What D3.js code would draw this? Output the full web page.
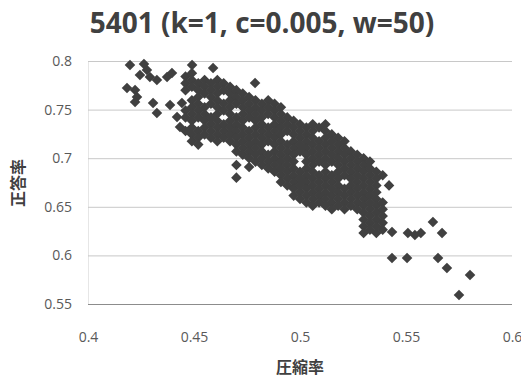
<!DOCTYPE html>
<html lang="ja">
<head>
<meta charset="UTF-8">
<title>5401 scatter</title>
<script src="https://cdn.jsdelivr.net/npm/d3@7"></script>
<style>
  body { margin: 0; background: #fff; }
  svg text { font-family: "Open Sans", "Noto Sans", sans-serif; }
  .tick-label { font-size: 14px; fill: #595959; }
  .axis-title { font-family: "Noto Sans CJK JP", sans-serif !important; font-size: 16px; font-weight: bold; fill: #404040; }
</style>
</head>
<body>
<div id="chart"></div>
<script>
// 目盛り
const xTicks = [0.4, 0.45, 0.5, 0.55, 0.6];
const yTicks = [0.55, 0.6, 0.65, 0.7, 0.75, 0.8];

// 左上のまばらな点 [圧縮率, 正答率]
const sparsePoints = [
  [0.4198, 0.7959], [0.4264, 0.7969], [0.4278, 0.7907], [0.4245, 0.7856],
  [0.4292, 0.7835], [0.4325, 0.7805], [0.4373, 0.7835], [0.4396, 0.7877],
  [0.4184, 0.7722], [0.4222, 0.7702], [0.4231, 0.7630], [0.4222, 0.7578],
  [0.4307, 0.7568], [0.4325, 0.7465], [0.4387, 0.7547], [0.4443, 0.7568],
  [0.4420, 0.7424], [0.4434, 0.7321], [0.4491, 0.7959], [0.4590, 0.7928],
  [0.4788, 0.7774]
];

// 中央の密集部分 (x ごとの y 値)
const clusterCols = [
  [0.446, [0.784, 0.777, 0.770, 0.749, 0.742, 0.728]],
  [0.449, [0.7875, 0.7805, 0.7735, 0.7595, 0.7525, 0.7455, 0.7385, 0.7315, 0.7245, 0.7175]],
  [0.452, [0.777, 0.770, 0.763, 0.756, 0.749, 0.742, 0.728, 0.721, 0.714]],
  [0.455, [0.7805, 0.7735, 0.7665, 0.7525, 0.7455, 0.7385, 0.7315, 0.7245]],
  [0.458, [0.777, 0.770, 0.763, 0.756, 0.742, 0.735, 0.728, 0.721]],
  [0.461, [0.7805, 0.7735, 0.7665, 0.7595, 0.7525, 0.7455, 0.7385, 0.7315, 0.7245, 0.7175]],
  [0.464, [0.777, 0.770, 0.756, 0.749, 0.735, 0.728, 0.721]],
  [0.467, [0.7735, 0.7665, 0.7595, 0.7525, 0.7455, 0.7385, 0.7315, 0.7245, 0.7175]],
  [0.470, [0.770, 0.763, 0.756, 0.742, 0.735, 0.728, 0.721, 0.714, 0.707, 0.693, 0.680]],
  [0.473, [0.7665, 0.7595, 0.7525, 0.7455, 0.7385, 0.7315, 0.7245, 0.7175, 0.7105, 0.7035]],
  [0.476, [0.763, 0.756, 0.749, 0.742, 0.728, 0.721, 0.714, 0.707, 0.700, 0.691]],
  [0.479, [0.7595, 0.7525, 0.7455, 0.7385, 0.7315, 0.7245, 0.7175, 0.7105, 0.7035, 0.6965]],
  [0.482, [0.756, 0.749, 0.742, 0.735, 0.728, 0.721, 0.714, 0.707, 0.700, 0.693]],
  [0.485, [0.7595, 0.7525, 0.7455, 0.7315, 0.7245, 0.7175, 0.7035, 0.6965, 0.6895]],
  [0.488, [0.756, 0.749, 0.742, 0.735, 0.728, 0.721, 0.714, 0.707, 0.700, 0.693, 0.686]],
  [0.491, [0.7525, 0.7455, 0.7385, 0.7315, 0.7245, 0.7175, 0.7105, 0.7035, 0.6965, 0.6895, 0.6825, 0.6755]],
  [0.494, [0.742, 0.735, 0.728, 0.714, 0.707, 0.700, 0.693, 0.686, 0.679, 0.672]],
  [0.497, [0.7385, 0.7315, 0.7245, 0.7175, 0.7105, 0.7035, 0.6965, 0.6895, 0.6825, 0.6755, 0.6685, 0.6615]],
  [0.500, [0.735, 0.728, 0.721, 0.714, 0.707, 0.686, 0.679, 0.672, 0.665, 0.658]],
  [0.503, [0.7315, 0.7245, 0.7175, 0.7105, 0.7035, 0.6965, 0.6895, 0.6825, 0.6755, 0.6685, 0.6615, 0.6545]],
  [0.506, [0.735, 0.728, 0.721, 0.714, 0.707, 0.700, 0.693, 0.686, 0.679, 0.672, 0.665, 0.658, 0.651]],
  [0.509, [0.7315, 0.7175, 0.7105, 0.7035, 0.6965, 0.6825, 0.6755, 0.6685, 0.6615, 0.6545]],
  [0.512, [0.735, 0.728, 0.721, 0.714, 0.707, 0.700, 0.693, 0.686, 0.679, 0.672, 0.665, 0.658, 0.651]],
  [0.515, [0.7245, 0.7175, 0.7105, 0.7035, 0.6965, 0.6825, 0.6755, 0.6685, 0.6615, 0.6545, 0.6475]],
  [0.518, [0.721, 0.714, 0.707, 0.700, 0.693, 0.686, 0.679, 0.672, 0.665, 0.658, 0.651]],
  [0.521, [0.7175, 0.7105, 0.7035, 0.6965, 0.6895, 0.6825, 0.6685, 0.6615, 0.6545, 0.6475]],
  [0.524, [0.707, 0.700, 0.693, 0.686, 0.679, 0.672, 0.665, 0.658, 0.651]],
  [0.527, [0.7035, 0.6965, 0.6895, 0.6825, 0.6755, 0.6685, 0.6615, 0.6545, 0.6475]],
  [0.530, [0.700, 0.693, 0.686, 0.679, 0.672, 0.665, 0.658, 0.651, 0.644, 0.637, 0.630, 0.623]],
  [0.533, [0.6965, 0.6895, 0.6825, 0.6755, 0.6685, 0.6615, 0.6545, 0.6475, 0.6405, 0.6335, 0.6265]],
  [0.536, [0.686, 0.679, 0.672, 0.665, 0.658, 0.651, 0.644, 0.637, 0.630, 0.623]],
  [0.539, [0.6825, 0.6545, 0.6475, 0.6405, 0.6335, 0.6265]],
  [0.542, [0.672]]
];

// 右下の外れた点
const tailPoints = [
  [0.5434, 0.6241], [0.5509, 0.6230], [0.5542, 0.6210], [0.5570, 0.6230],
  [0.5627, 0.6344], [0.5670, 0.6230], [0.5434, 0.5973], [0.5505, 0.5973],
  [0.5651, 0.5973], [0.5693, 0.5870], [0.5802, 0.5798], [0.5750, 0.5593]
];

const W = 521, H = 379;
const plot = { left: 88, right: 512, top: 61, bottom: 304 };

const svg = d3.select("#chart").append("svg")
  .attr("width", W).attr("height", H);

const x = d3.scaleLinear().domain([0.4, 0.6]).range([plot.left, plot.right]);
const y = d3.scaleLinear().domain([0.55, 0.8]).range([plot.bottom, plot.top]);

// 横の目盛線
const yAxis = d3.axisLeft(y).tickValues(yTicks)
  .tickSize(-(plot.right - plot.left)).tickPadding(16)
  .tickFormat(d => String(+d.toFixed(2)));
const gy = svg.append("g").attr("transform", `translate(${plot.left},0)`).call(yAxis);
gy.select(".domain").attr("stroke", "#e6e6e6");
gy.selectAll(".tick line").attr("stroke", d => d === 0.55 ? "#8c8c8c" : "#c8c8c8");
gy.selectAll(".tick text").attr("class", "tick-label").attr("font-size", null).attr("fill", null);

const xAxis = d3.axisBottom(x).tickValues(xTicks).tickSize(0).tickPadding(28)
  .tickFormat(d => String(+d.toFixed(2)));
const gx = svg.append("g").attr("transform", `translate(0,${plot.bottom})`).call(xAxis);
gx.select(".domain").remove();
gx.selectAll(".tick text").attr("class", "tick-label").attr("font-size", null).attr("fill", null);

// 点
const allPoints = sparsePoints
  .concat(clusterCols.flatMap(c => c[1].map(v => [c[0], v])))
  .concat(tailPoints);

const diamond = d3.symbol().type(d3.symbolSquare).size(56);
svg.append("g").selectAll("path")
  .data(allPoints)
  .enter().append("path")
  .attr("d", diamond)
  .attr("transform", d => `translate(${x(d[0])},${y(d[1])}) rotate(45)`)
  .attr("fill", "#404040");

// タイトル
svg.append("text")
  .attr("x", 262).attr("y", 33)
  .attr("text-anchor", "middle")
  .attr("font-size", 28).attr("font-weight", "bold").attr("fill", "#404040")
  .text("5401 (k=1, c=0.005, w=50)");

svg.append("text").attr("class", "axis-title")
  .attr("x", 300).attr("y", 373).attr("text-anchor", "middle")
  .text("圧縮率");

svg.append("text").attr("class", "axis-title")
  .attr("transform", "translate(24,183) rotate(-90)")
  .attr("text-anchor", "middle")
  .text("正答率");
</script>
</body>
</html>
